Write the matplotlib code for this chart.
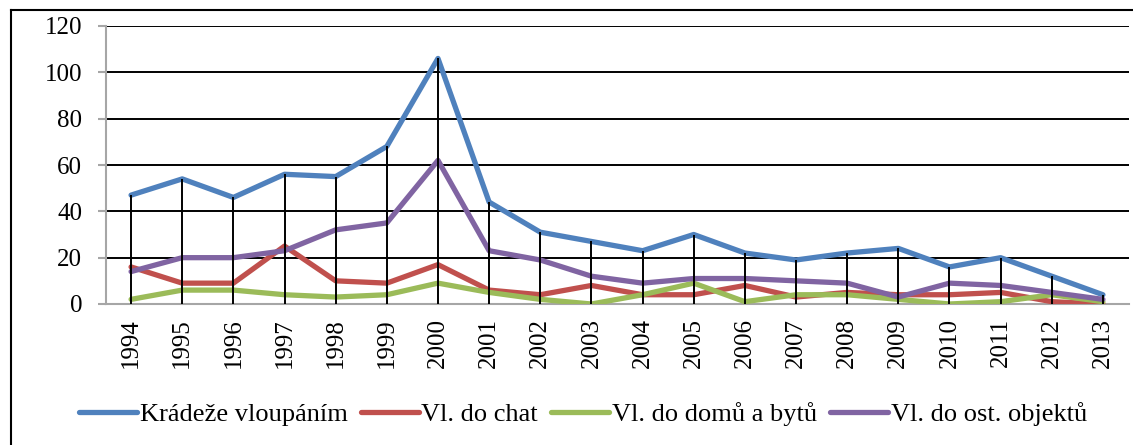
import numpy as np
import matplotlib
matplotlib.use('Agg')
import matplotlib.pyplot as plt
from matplotlib.lines import Line2D

plt.rcParams['font.family'] = ['Liberation Serif', 'DejaVu Serif']

years = [str(y) for y in range(1994, 2014)]
kradeze = [47, 54, 46, 56, 55, 68, 106, 44, 31, 27, 23, 30, 22, 19, 22, 24, 16, 20, 12, 4]
chaty = [16, 9, 9, 25, 10, 9, 17, 6, 4, 8, 4, 4, 8, 3, 5, 4, 4, 5, 1, 0]
domy = [2, 6, 6, 4, 3, 4, 9, 5, 2, 0, 4, 9, 1, 4, 4, 2, 0, 1, 4, 1]
ostatni = [14, 20, 20, 23, 32, 35, 62, 23, 19, 12, 9, 11, 11, 10, 9, 3, 9, 8, 5, 2]

labels = ['Krádeže vloupáním', 'Vl. do chat', 'Vl. do domů a bytů', 'Vl. do ost. objektů']
colors = ['#4F81BD', '#C0504D', '#9BBB59', '#8064A2']
series = [kradeze, chaty, domy, ostatni]

fig = plt.figure(figsize=(11.33, 4.45), dpi=100)
ax = fig.add_axes([105.5/1133, 1-304/445, (1128.5-105.5)/1133, (304-26)/445])

x = np.arange(len(years))
for s, c, l in zip(series, colors, labels):
    ax.plot(x, s, color=c, linewidth=3.8, label=l, zorder=3, solid_capstyle='round')

# drop lines
top = np.max(np.array(series), axis=0)
ax.vlines(x, 0, top, colors='black', linewidth=1.4, zorder=4)

ax.set_xlim(-0.5, len(years)-0.5)
ax.set_ylim(0, 120)
ax.set_yticks(range(0, 121, 20))
ax.set_xticks(x)
ax.set_xticklabels(years, rotation=90)
for yv in range(20, 121, 20):
    ax.axhline(yv, color='black', linewidth=1.4, zorder=1)

for sp in ['top', 'right']:
    ax.spines[sp].set_visible(False)
for sp in ['left', 'bottom']:
    ax.spines[sp].set_color('#a6a6a6')
    ax.spines[sp].set_linewidth(1.5)
ax.tick_params(axis='y', direction='out', length=5.8, width=1.5, color='#a6a6a6',
               labelsize=18, pad=11)
ax.tick_params(axis='x', length=0, labelsize=18, pad=10)

ax.legend(loc='upper center', bbox_to_anchor=(583/1133, 1-389/445), bbox_transform=fig.transFigure,
          ncol=4, frameon=False, fontsize=19, handlelength=2.2, handletextpad=0.1,
          columnspacing=0.5, borderpad=0)

# outer chart frame
fig.add_artist(Line2D([11/1133, 11/1133], [0, 1-10/445], color='black', linewidth=1.5,
                      transform=fig.transFigure))
fig.add_artist(Line2D([11/1133, 1], [1-10/445, 1-10/445], color='black', linewidth=1.5,
                      transform=fig.transFigure))

fig.savefig('out.png', dpi=100)
